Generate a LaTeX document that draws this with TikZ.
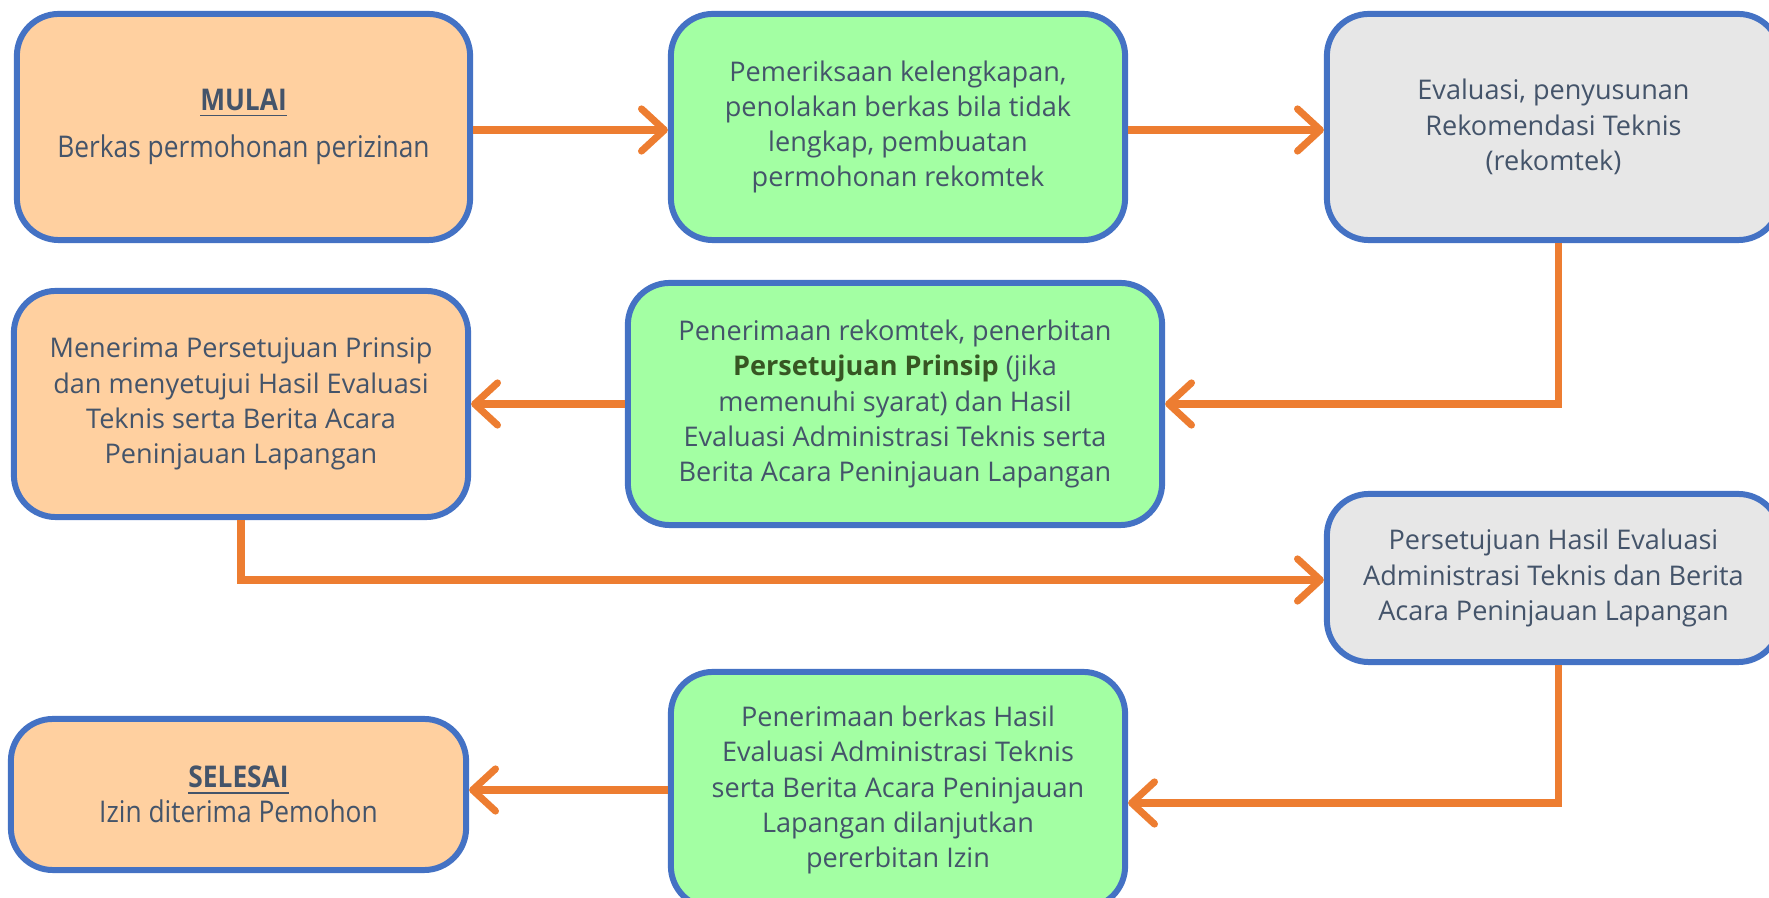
\documentclass[tikz,border=0pt]{standalone}
\usepackage{fontspec}
\setmainfont{Open Sans}
\newfontfamily\narrowfont[FakeStretch=0.88]{Open Sans}
\usepackage{xcolor}
\usetikzlibrary{arrows.meta, positioning}
\definecolor{boxline}{HTML}{4472C4}
\definecolor{peach}{HTML}{FFD0A0}
\definecolor{mint}{HTML}{A3FFA3}
\definecolor{paleGrey}{HTML}{E7E7E7}
\definecolor{flow}{HTML}{ED7D31}
\definecolor{ink}{HTML}{44546A}
\definecolor{deepGreen}{HTML}{375623}

\tikzset{
	stage/.style={draw=boxline, line width=1.7pt, rounded corners=0.42cm, align=center, text=ink, inner sep=0pt, font=\fontsize{7.7pt}{10pt}\selectfont},
	endstage/.style={stage, fill=peach, font=\narrowfont\fontsize{8.5pt}{10pt}\selectfont},
	workstage/.style={stage, fill=mint},
	checkstage/.style={stage, fill=paleGrey},
	flowline/.style={draw=flow, line width=2pt, -{Straight Barb[length=6.5pt,width=12pt,round]}}
}

\begin{document}
\begin{tikzpicture}[x=0.01cm, y=-0.01cm]
				\useasboundingbox (0,0) rectangle (1769,898);
				\node[endstage, minimum width=4.53cm, minimum height=2.26cm] (mulai) at (243.5,127) {\underline{\textbf{MULAI}}\\[3.4pt] Berkas permohonan perizinan};
				\node[workstage, minimum width=4.54cm, minimum height=2.26cm] (periksa) at (898,127) {Pemeriksaan kelengkapan,\\ penolakan berkas bila tidak\\ lengkap, pembuatan\\ permohonan rekomtek};
				\node[checkstage, minimum width=4.53cm, minimum height=2.26cm] (evaluasi) at (1553.5,127) {Evaluasi, penyusunan\\ Rekomendasi Teknis\\ (rekomtek)};
				\node[workstage, minimum width=5.34cm, minimum height=2.42cm] (terbit) at (895,404) {Penerimaan rekomtek, penerbitan\\ {\bfseries\color{deepGreen}Persetujuan Prinsip} (jika\\ memenuhi syarat) dan Hasil\\ Evaluasi Administrasi Teknis serta\\ Berita Acara Peninjauan Lapangan};
				\node[endstage, font=\fontsize{7.7pt}{10pt}\selectfont, minimum width=4.54cm, minimum height=2.26cm] (terima) at (241,404) {Menerima Persetujuan Prinsip\\ dan menyetujui Hasil Evaluasi\\ Teknis serta Berita Acara\\ Peninjauan Lapangan};
				\node[checkstage, minimum width=4.53cm, minimum height=1.68cm] (setuju) at (1553.5,578) {Persetujuan Hasil Evaluasi\\ Administrasi Teknis dan Berita\\ Acara Peninjauan Lapangan};
				\node[workstage, minimum width=4.54cm, minimum height=2.36cm] (lanjut) at (898,790) {Penerimaan berkas Hasil\\ Evaluasi Administrasi Teknis\\ serta Berita Acara Peninjauan\\ Lapangan dilanjutkan\\ pererbitan Izin};
				\node[endstage, minimum width=4.55cm, minimum height=1.51cm] (selesai) at (238.5,794.5) {\underline{\textbf{SELESAI}}\\ Izin diterima Pemohon};
				\draw[flowline] ([yshift=-0.03cm]mulai.east) -- ([yshift=-0.03cm]periksa.west);
				\draw[flowline] ([yshift=-0.03cm]periksa.east) -- ([yshift=-0.03cm]evaluasi.west);
				\draw[flowline] ([xshift=0.045cm]evaluasi.south) |- (terbit.east);
				\draw[flowline] (terbit.west) -- (terima.east);
				\draw[flowline] (terima.south) |- ([yshift=-0.02cm]setuju.west);
				\draw[flowline] ([xshift=0.045cm]setuju.south) |- ([yshift=-0.13cm]lanjut.east);
				\draw[flowline] (lanjut.west) -- (lanjut.west -| selesai.east);
\end{tikzpicture}
\end{document}
